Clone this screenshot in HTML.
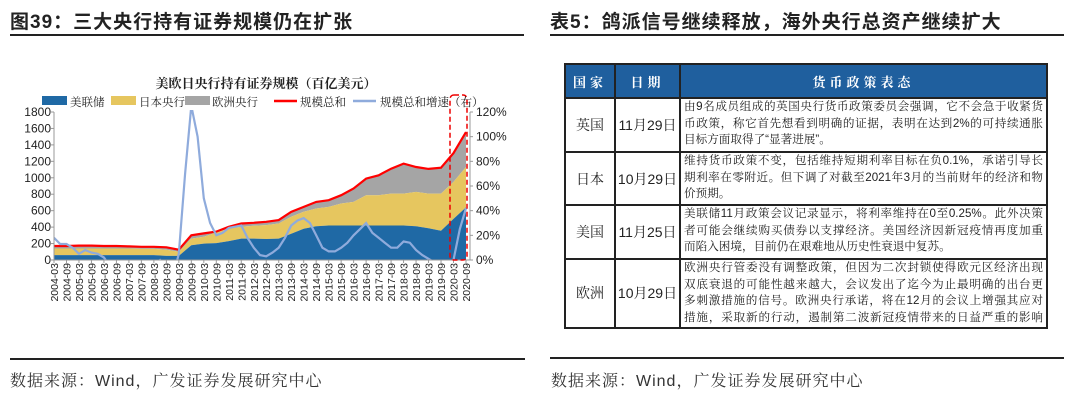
<!DOCTYPE html>
<html><head><meta charset="utf-8">
<style>
body{margin:0;width:1080px;height:410px;background:#fff;position:relative;overflow:hidden;font-family:"Liberation Sans","Noto Sans CJK SC",sans-serif;}
.abs{position:absolute;}
.ttl{font-size:19px;font-weight:bold;color:#222;top:7px;white-space:nowrap;letter-spacing:1px;}
.hr{height:2px;background:#222;}
.src{font-size:16px;color:#333;top:368px;white-space:nowrap;font-family:"Liberation Sans","Noto Serif CJK SC",serif;letter-spacing:1px;}
table{border-collapse:collapse;table-layout:fixed;position:absolute;left:564px;top:63px;width:482px;font-family:"Liberation Sans","Noto Serif CJK SC",serif;}
td,th{border:2px solid #222;padding:0;font-size:13px;color:#222;overflow:hidden;}
th{background:#1f5f9e;color:#fff;height:32px;font-weight:bold;letter-spacing:4px;}
td.c{text-align:center;white-space:nowrap;font-size:14px;}
td.d{padding:0 3px 0 3px;line-height:16.7px;vertical-align:top;font-size:11.6px;}
.j{text-align:justify;text-align-last:justify;white-space:nowrap;}
</style></head><body>
<div class="abs ttl" style="left:10px">图39：三大央行持有证券规模仍在扩张</div>
<div class="abs hr" style="left:10px;top:34px;width:514px"></div>
<div class="abs ttl" style="left:550px">表5：鸽派信号继续释放，海外央行总资产继续扩大</div>
<div class="abs hr" style="left:550px;top:34px;width:514px"></div>
<div class="abs hr" style="left:10px;top:358px;width:515px"></div>
<div class="abs hr" style="left:550px;top:357px;width:514px"></div>
<div class="abs src" style="left:10px">数据来源：Wind，广发证券发展研究中心</div>
<div class="abs src" style="left:551px">数据来源：Wind，广发证券发展研究中心</div>

<svg class="abs" style="left:0;top:0" width="540" height="340" id="chart"></svg>

<table>
<colgroup><col style="width:50px"><col style="width:65px"><col style="width:367px"></colgroup>
<tr><th>国家</th><th>日期</th><th>货币政策表态</th></tr>
<tr style="height:54px"><td class="c">英国</td><td class="c">11月29日</td><td class="d"><div class="j">由9名成员组成的英国央行货币政策委员会强调，它不会急于收紧货</div><div class="j">币政策，称它首先想看到明确的证据，表明在达到2%的可持续通胀</div><div>目标方面取得了“显著进展”。</div></td></tr>
<tr style="height:53px"><td class="c">日本</td><td class="c">10月29日</td><td class="d"><div class="j">维持货币政策不变，包括维持短期利率目标在负0.1%，承诺引导长</div><div class="j">期利率在零附近。但下调了对截至2021年3月的当前财年的经济和物</div><div>价预期。</div></td></tr>
<tr style="height:54px"><td class="c">美国</td><td class="c">11月25日</td><td class="d"><div class="j">美联储11月政策会议记录显示，将利率维持在0至0.25%。此外决策</div><div class="j">者可能会继续购买债券以支撑经济。美国经济因新冠疫情再度加重</div><div>而陷入困境，目前仍在艰难地从历史性衰退中复苏。</div></td></tr>
<tr style="height:68px"><td class="c">欧洲</td><td class="c">10月29日</td><td class="d"><div class="j">欧洲央行管委没有调整政策，但因为二次封锁使得欧元区经济出现</div><div class="j">双底衰退的可能性越来越大，会议发出了迄今为止最明确的出台更</div><div class="j">多刺激措施的信号。欧洲央行承诺，将在12月的会议上增强其应对</div><div class="j">措施，采取新的行动，遏制第二波新冠疫情带来的日益严重的影响</div></td></tr>
</table>

<script>
// semiannual categories 2004-03 .. 2020-09
const labels = [];
for (let y = 2004; y <= 2020; y++) { labels.push(y + '-03'); labels.push(y + '-09'); }
const fed = [60,60,60,60,60,60,60,60,60,50,50,180,200,205,230,260,260,255,260,320,380,410,420,420,420,420,420,420,420,410,385,355,500,640];
const japan = [80,80,80,80,80,80,80,75,75,75,50,80,83,130,154,144,156,169,184,205,206,216,226,267,287,368,368,388,388,418,423,453,450,491];
const europe = [30,30,35,35,30,30,25,25,25,30,25,40,40,10,20,40,36,41,41,61,60,81,81,101,162,202,242,303,364,303,300,315,350,424];
// quarterly growth, % (2004-03 .. 2020-09)
const growth = [18,13,13,10, 5,8,6,5, 2,-5,-10,-12, -12,-10,-8,-5, -3,0,-5,-15, 5,70,125,100,
 50,30,20,22, 26,27,28,18, 10,4,3,6, 10,18,28,32, 34,30,20,10, 7,7,10,14, 20,25,30,22,
 18,14,10,10, 15,14,8,4, 1,-2,-3,-2, 0,25,42];
const leftTicks = [0,200,400,600,800,1000,1200,1400,1600,1800];
const rightTicks = [0,20,40,60,80,100,120];
const legendNames = ['美联储','日本央行','欧洲央行','规模总和','规模总和增速（右）'];

const NS = 'http://www.w3.org/2000/svg';
const svg = document.getElementById('chart');
const X0 = 54, X1 = 466, YB = 260, YT = 112;
const xm = m => X0 + (X1 - X0) * m / 198;
const yL = v => YB - (YB - YT) * v / 1800;
const yR = v => YB - (YB - YT) * v / 120;
function el(tag, attrs, parent) { const e = document.createElementNS(NS, tag); for (const k in attrs) e.setAttribute(k, attrs[k]); (parent || svg).appendChild(e); return e; }

const defs = el('defs', {});
const cp = el('clipPath', {id: 'plotclip'}, defs);
el('rect', {x: X0, y: YT - 2, width: X1 - X0 + 2, height: YB - YT + 2}, cp);

const tops1 = fed, tops2 = fed.map((v, i) => v + japan[i]), tops3 = tops2.map((v, i) => v + europe[i]);
function areaPath(lo, hi) {
  let d = '';
  hi.forEach((v, i) => { d += (i ? 'L' : 'M') + xm(i * 6).toFixed(1) + ',' + yL(v).toFixed(1); });
  for (let i = lo.length - 1; i >= 0; i--) d += 'L' + xm(i * 6).toFixed(1) + ',' + yL(lo[i]).toFixed(1);
  return d + 'Z';
}
const zeros = fed.map(() => 0);
const aE = el('path', {d: areaPath(tops2, tops3), fill: '#a5a5a5'});


const aJ = el('path', {d: areaPath(tops1, tops2), fill: '#e6c65f'});


const aF = el('path', {d: areaPath(zeros, tops1), fill: '#1f69a5'});


const tl = el('polyline', {points: tops3.map((v, i) => xm(i * 6).toFixed(1) + ',' + yL(v).toFixed(1)).join(' '), fill: 'none', stroke: '#f00', 'stroke-width': 2.2});


const gl = el('polyline', {points: growth.map((v, i) => xm(i * 3).toFixed(1) + ',' + yR(v).toFixed(1)).join(' '), fill: 'none', stroke: '#8fabdc', 'stroke-width': 2.2, 'clip-path': 'url(#plotclip)'});



el('line', {x1: X0, y1: YT, x2: X0, y2: YB, stroke: '#999'});
el('line', {x1: X0, y1: YB, x2: X1 + 4, y2: YB, stroke: '#999'});
el('line', {x1: X1 + 4, y1: YT, x2: X1 + 4, y2: YB, stroke: '#999'});
leftTicks.forEach(v => {
  const t = el('text', {x: X0 - 3, y: yL(v) + 4, 'text-anchor': 'end', 'font-size': 12, fill: '#222'}); t.textContent = v;
  
  
  el('line', {x1: X0 - 3, y1: yL(v), x2: X0, y2: yL(v), stroke: '#999'});
});
rightTicks.forEach(v => {
  const t = el('text', {x: 476, y: yR(v) + 4, 'font-size': 12, fill: '#222'}); t.textContent = v + '%';
  
  
  el('line', {x1: X1 + 4, y1: yR(v), x2: X1 + 7, y2: yR(v), stroke: '#999'});
});
labels.forEach((s, i) => {
  const x = xm(i * 6);
  el('line', {x1: x, y1: YB, x2: x, y2: YB + 3, stroke: '#999'});
  const t = el('text', {x: 0, y: 0, transform: `translate(${x + 4},${YB + 3}) rotate(-90)`, 'text-anchor': 'end', 'font-size': 10.5, fill: '#222'});
  t.textContent = s;
  
  
});
const hb = el('rect', {x: 450, y: 95, width: 17, height: 165, rx: 4, fill: 'none', stroke: '#e00', 'stroke-width': 1.5, 'stroke-dasharray': '5,3'});



const ti = el('text', {x: 266, y: 88, 'text-anchor': 'middle', 'font-size': 13, 'font-weight': 'bold', fill: '#222', 'font-family': '"Liberation Serif","Noto Serif CJK SC",serif'});
ti.textContent = '美欧日央行持有证券规模（百亿美元）';



const lx = [42, 111, 185, 274, 353], tx = [70, 139, 212, 300, 380];
const kinds = ['rect', 'rect', 'rect', 'line', 'line'], cols = ['#1f69a5', '#e6c65f', '#a5a5a5', '#f00', '#8fabdc'];
legendNames.forEach((n, i) => {
  const g = el('g', {});
  
  
  if (kinds[i] === 'rect') el('rect', {x: lx[i], y: 96, width: 25, height: 9, fill: cols[i]}, g);
  else el('line', {x1: lx[i], y1: 101, x2: lx[i] + 23, y2: 101, stroke: cols[i], 'stroke-width': 2.5}, g);
  const t = el('text', {x: tx[i], y: 106, 'font-size': 11.5, fill: '#222', 'font-family': '"Liberation Serif","Noto Serif CJK SC",serif'}, g);
  t.textContent = n;
});
</script>
</body></html>
